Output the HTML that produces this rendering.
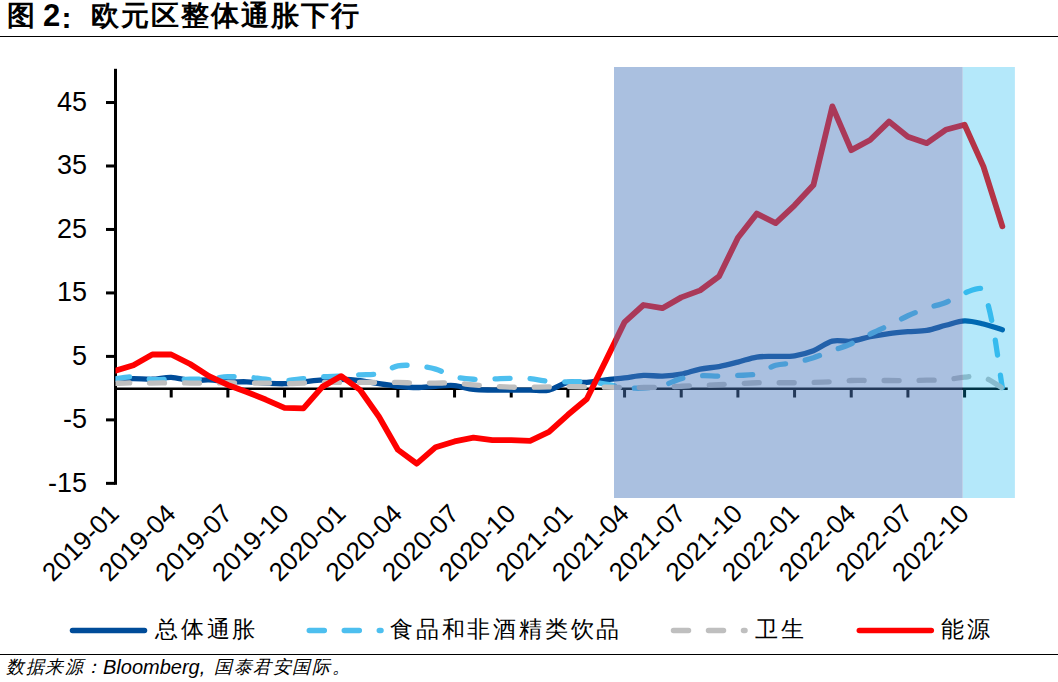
<!DOCTYPE html>
<html><head><meta charset="utf-8"><style>
html,body{margin:0;padding:0;background:#fff;width:1058px;height:682px;overflow:hidden;position:relative}
.t{position:absolute;font-family:"Liberation Sans",sans-serif;color:#000;white-space:nowrap;line-height:1}
</style></head><body>
<div class="t" style="left:7px;top:2px;font-size:28px;font-weight:bold">图</div>
<div class="t" style="left:43px;top:0px;font-size:31px;font-weight:bold">2</div>
<div class="t" style="left:61.5px;top:3px;font-size:30px;font-weight:bold">:</div>
<div class="t" style="left:91px;top:2px;font-size:28px;font-weight:bold;letter-spacing:2px">欧元区整体通胀下行</div>
<div style="position:absolute;left:0;top:35.8px;width:1058px;height:1.4px;background:#000"></div>
<svg width="1058" height="682" viewBox="0 0 1058 682" style="position:absolute;left:0;top:0">
<defs><clipPath id="pa"><rect x="115.5" y="60" width="900" height="440"/></clipPath></defs>
<rect x="114" y="68.8" width="3" height="416" fill="#000"/>
<rect x="106" y="101.02" width="9" height="3" fill="#000"/>
<rect x="106" y="164.49" width="9" height="3" fill="#000"/>
<rect x="106" y="227.96" width="9" height="3" fill="#000"/>
<rect x="106" y="291.43" width="9" height="3" fill="#000"/>
<rect x="106" y="354.90" width="9" height="3" fill="#000"/>
<rect x="106" y="418.38" width="9" height="3" fill="#000"/>
<rect x="106" y="481.85" width="9" height="3" fill="#000"/>
<rect x="114" y="387.5" width="893.7" height="2.5" fill="#000"/>
<rect x="169.70" y="388" width="3" height="9.5" fill="#000"/>
<rect x="226.37" y="388" width="3" height="9.5" fill="#000"/>
<rect x="283.04" y="388" width="3" height="9.5" fill="#000"/>
<rect x="339.71" y="388" width="3" height="9.5" fill="#000"/>
<rect x="396.38" y="388" width="3" height="9.5" fill="#000"/>
<rect x="453.05" y="388" width="3" height="9.5" fill="#000"/>
<rect x="509.72" y="388" width="3" height="9.5" fill="#000"/>
<rect x="566.39" y="388" width="3" height="9.5" fill="#000"/>
<rect x="623.06" y="388" width="3" height="9.5" fill="#000"/>
<rect x="679.73" y="388" width="3" height="9.5" fill="#000"/>
<rect x="736.40" y="388" width="3" height="9.5" fill="#000"/>
<rect x="793.07" y="388" width="3" height="9.5" fill="#000"/>
<rect x="849.74" y="388" width="3" height="9.5" fill="#000"/>
<rect x="906.41" y="388" width="3" height="9.5" fill="#000"/>
<rect x="963.08" y="388" width="3" height="9.5" fill="#000"/>
<g clip-path="url(#pa)" fill="none" stroke-linecap="round" stroke-linejoin="round">
<path d="M114.53 379.25 C117.68 379.15 127.12 378.62 133.42 378.62 C139.72 378.62 146.03 379.47 152.31 379.25 C158.62 379.04 164.93 377.14 171.20 377.35 C177.52 377.56 183.75 380.10 190.09 380.52 C196.34 380.94 202.70 379.68 208.98 379.89 C215.29 380.10 221.56 381.47 227.87 381.79 C234.15 382.11 240.47 381.58 246.76 381.79 C253.06 382.00 259.35 382.74 265.65 383.06 C271.94 383.38 278.26 383.91 284.54 383.70 C290.85 383.49 297.13 382.43 303.43 381.79 C309.73 381.16 316.01 380.31 322.32 379.89 C328.60 379.47 334.92 379.15 341.21 379.25 C347.51 379.36 353.84 379.79 360.10 380.52 C366.43 381.27 372.68 382.74 378.99 383.70 C385.27 384.65 391.56 385.60 397.88 386.24 C404.16 386.87 410.47 387.51 416.77 387.51 C423.07 387.51 429.36 386.55 435.66 386.24 C441.95 385.92 448.31 385.08 454.55 385.60 C460.91 386.14 467.08 388.66 473.44 389.41 C479.68 390.14 486.03 389.94 492.33 390.04 C498.62 390.15 504.92 390.04 511.22 390.04 C517.52 390.04 523.81 390.04 530.11 390.04 C536.41 390.04 542.94 391.27 549.00 390.04 C555.53 388.73 561.36 383.74 567.89 382.43 C573.95 381.21 580.51 382.85 586.78 382.43 C593.10 382.00 599.36 380.63 605.67 379.89 C611.95 379.15 618.28 378.72 624.56 377.98 C630.87 377.24 637.13 375.76 643.45 375.45 C649.72 375.13 656.06 376.29 662.34 376.08 C668.65 375.87 675.03 375.32 681.23 374.18 C687.62 373.00 693.74 370.38 700.12 369.10 C706.34 367.85 712.77 367.71 719.01 366.56 C725.36 365.39 731.63 363.70 737.90 362.12 C744.22 360.52 750.39 358.01 756.79 357.04 C762.98 356.10 769.38 356.62 775.68 356.40 C781.98 356.19 788.38 356.71 794.57 355.77 C800.97 354.80 807.41 353.03 813.46 350.69 C820.00 348.16 825.70 342.85 832.35 341.17 C838.29 339.68 845.03 341.90 851.24 341.17 C857.62 340.42 863.79 338.01 870.13 336.73 C876.39 335.47 882.70 334.41 889.02 333.56 C895.29 332.71 901.60 332.18 907.91 331.65 C914.20 331.12 920.61 331.42 926.80 330.38 C933.20 329.31 939.37 326.90 945.69 325.30 C951.96 323.72 958.24 321.07 964.58 320.86 C970.84 320.65 977.27 322.58 983.47 324.04 C989.86 325.54 999.21 328.80 1002.36 329.75" stroke="#004c99" stroke-width="5.3"/>
<path d="M114.53 378.94 C117.68 378.57 127.14 376.61 133.42 376.72 C139.73 376.82 145.98 379.15 152.31 379.57 C158.57 379.99 164.90 379.31 171.20 379.25 C177.50 379.20 183.80 379.36 190.09 379.25 C196.39 379.15 202.70 379.04 208.98 378.62 C215.29 378.20 221.56 376.98 227.87 376.72 C234.15 376.45 240.48 376.61 246.76 377.03 C253.08 377.46 259.34 378.67 265.65 379.25 C271.93 379.83 278.25 380.63 284.54 380.52 C290.85 380.42 297.13 379.25 303.43 378.62 C309.73 377.98 316.01 377.14 322.32 376.72 C328.60 376.29 334.92 376.40 341.21 376.08 C347.51 375.76 353.80 375.23 360.10 374.81 C366.40 374.39 372.92 374.97 378.99 373.54 C385.52 372.01 391.35 367.24 397.88 365.93 C403.94 364.70 410.52 365.40 416.77 365.93 C423.11 366.46 429.56 367.36 435.66 369.10 C442.15 370.95 448.04 374.97 454.55 376.72 C460.64 378.35 467.12 378.88 473.44 379.25 C479.71 379.62 486.03 379.10 492.33 378.94 C498.63 378.78 504.92 378.36 511.22 378.30 C517.52 378.25 523.85 378.09 530.11 378.62 C536.44 379.15 542.67 380.94 549.00 381.48 C555.26 382.00 561.59 381.74 567.89 381.79 C574.19 381.85 580.50 381.42 586.78 381.79 C593.10 382.16 599.40 383.07 605.67 384.01 C612.00 384.97 618.21 386.81 624.56 387.51 C630.81 388.19 637.18 388.46 643.45 388.14 C649.77 387.82 656.22 387.14 662.34 385.60 C668.81 383.97 674.77 380.30 681.23 378.62 C687.36 377.02 693.79 376.19 700.12 375.76 C706.38 375.34 712.71 376.13 719.01 376.08 C725.31 376.03 731.61 375.82 737.90 375.45 C744.21 375.08 750.78 375.48 756.79 373.86 C763.37 372.09 769.12 367.22 775.68 365.29 C781.71 363.52 788.35 364.00 794.57 362.75 C800.95 361.47 807.26 359.66 813.46 357.67 C819.85 355.64 826.05 353.02 832.35 350.69 C838.65 348.37 845.10 346.39 851.24 343.71 C857.69 340.89 863.79 337.28 870.13 334.19 C876.39 331.14 882.76 328.35 889.02 325.30 C895.36 322.22 901.49 318.69 907.91 315.78 C914.09 312.98 920.40 310.42 926.80 308.17 C933.00 305.98 939.61 304.91 945.69 302.46 C952.21 299.83 957.96 295.05 964.58 292.93 C970.55 291.03 981.44 285.30 983.47 290.40 C994.03 316.83 999.21 371.32 1002.36 387.51" stroke="#4dbfef" stroke-width="5.3" stroke-dasharray="15 20"/>
<path d="M114.53 383.38 C117.68 383.27 127.12 382.80 133.42 382.75 C139.72 382.69 146.01 383.06 152.31 383.06 C158.61 383.06 164.90 382.75 171.20 382.75 C177.50 382.75 183.79 383.01 190.09 383.06 C196.39 383.12 202.68 383.12 208.98 383.06 C215.28 383.01 221.57 382.75 227.87 382.75 C234.17 382.75 240.46 383.01 246.76 383.06 C253.06 383.12 259.36 382.96 265.65 383.06 C271.95 383.17 278.24 383.70 284.54 383.70 C290.84 383.70 297.13 383.27 303.43 383.06 C309.73 382.85 316.02 382.53 322.32 382.43 C328.61 382.32 334.91 382.43 341.21 382.43 C347.51 382.43 353.80 382.43 360.10 382.43 C366.40 382.43 372.69 382.43 378.99 382.43 C385.29 382.43 391.59 382.32 397.88 382.43 C404.18 382.53 410.47 382.96 416.77 383.06 C423.06 383.17 429.36 383.06 435.66 383.06 C441.96 383.06 448.27 382.75 454.55 383.06 C460.86 383.38 467.13 384.44 473.44 384.97 C479.73 385.49 486.03 385.87 492.33 386.24 C498.62 386.61 504.92 387.03 511.22 387.19 C517.51 387.35 523.81 387.24 530.11 387.19 C536.41 387.14 542.70 386.98 549.00 386.87 C555.30 386.76 561.59 386.55 567.89 386.55 C574.19 386.55 580.48 386.76 586.78 386.87 C593.08 386.98 599.37 387.08 605.67 387.19 C611.97 387.29 618.26 387.45 624.56 387.51 C630.86 387.56 637.15 387.56 643.45 387.51 C649.75 387.45 656.05 387.40 662.34 387.19 C668.64 386.98 674.93 386.50 681.23 386.24 C687.52 385.97 693.83 385.87 700.12 385.60 C706.42 385.34 712.71 384.97 719.01 384.65 C725.31 384.33 731.60 384.01 737.90 383.70 C744.20 383.38 750.49 382.90 756.79 382.75 C763.08 382.59 769.38 382.75 775.68 382.75 C781.98 382.75 788.27 382.80 794.57 382.75 C800.87 382.69 807.16 382.59 813.46 382.43 C819.76 382.27 826.06 382.11 832.35 381.79 C838.65 381.48 844.94 380.74 851.24 380.52 C857.53 380.31 863.83 380.52 870.13 380.52 C876.43 380.52 882.72 380.52 889.02 380.52 C895.32 380.52 901.61 380.58 907.91 380.52 C914.21 380.47 920.50 380.31 926.80 380.21 C933.10 380.10 939.43 380.41 945.69 379.89 C952.02 379.36 958.25 377.46 964.58 377.03 C970.84 376.61 977.62 375.63 983.47 377.35 C990.21 379.33 999.21 386.34 1002.36 388.14" stroke="#bfbfbf" stroke-width="5.3" stroke-dasharray="15 20"/>
<path d="M114.53 371.00 L133.42 365.29 L152.31 354.50 L171.20 354.50 L190.09 364.02 L208.98 376.08 L227.87 384.97 L246.76 391.95 L265.65 399.56 L284.54 407.82 L303.43 408.45 L322.32 386.87 L341.21 376.08 L360.10 390.04 L378.99 416.70 L397.88 449.71 L416.77 463.67 L435.66 447.17 L454.55 441.45 L473.44 437.65 L492.33 440.19 L511.22 440.19 L530.11 440.82 L549.00 431.93 L567.89 414.80 L586.78 398.93 L605.67 360.85 L624.56 322.13 L643.45 304.99 L662.34 308.17 L681.23 297.38 L700.12 290.40 L719.01 276.43 L737.90 237.72 L756.79 213.60 L775.68 223.12 L794.57 205.35 L813.46 185.04 L832.35 106.33 L851.24 150.13 L870.13 139.97 L889.02 121.57 L907.91 136.80 L926.80 143.15 L945.69 129.82 L964.58 124.74 L983.47 166.63 L1002.36 226.29" stroke="#ff0000" stroke-width="5.8"/>
</g>
<rect x="614" y="67" width="348.7" height="431" fill="rgb(75,121,189)" fill-opacity="0.47"/>
<rect x="962.9" y="67" width="52" height="431" fill="rgb(0,177,238)" fill-opacity="0.294"/>
<text x="87" y="111.02" text-anchor="end" font-size="27" font-family="Liberation Sans, sans-serif">45</text>
<text x="87" y="174.49" text-anchor="end" font-size="27" font-family="Liberation Sans, sans-serif">35</text>
<text x="87" y="237.96" text-anchor="end" font-size="27" font-family="Liberation Sans, sans-serif">25</text>
<text x="87" y="301.43" text-anchor="end" font-size="27" font-family="Liberation Sans, sans-serif">15</text>
<text x="87" y="364.90" text-anchor="end" font-size="27" font-family="Liberation Sans, sans-serif">5</text>
<text x="87" y="428.38" text-anchor="end" font-size="27" font-family="Liberation Sans, sans-serif">-5</text>
<text x="87" y="491.85" text-anchor="end" font-size="27" font-family="Liberation Sans, sans-serif">-15</text>
<text transform="translate(120.50 515.2) rotate(-45)" text-anchor="end" font-size="26" font-family="Liberation Sans, sans-serif">2019-01</text>
<text transform="translate(177.17 515.2) rotate(-45)" text-anchor="end" font-size="26" font-family="Liberation Sans, sans-serif">2019-04</text>
<text transform="translate(233.84 515.2) rotate(-45)" text-anchor="end" font-size="26" font-family="Liberation Sans, sans-serif">2019-07</text>
<text transform="translate(290.51 515.2) rotate(-45)" text-anchor="end" font-size="26" font-family="Liberation Sans, sans-serif">2019-10</text>
<text transform="translate(347.18 515.2) rotate(-45)" text-anchor="end" font-size="26" font-family="Liberation Sans, sans-serif">2020-01</text>
<text transform="translate(403.85 515.2) rotate(-45)" text-anchor="end" font-size="26" font-family="Liberation Sans, sans-serif">2020-04</text>
<text transform="translate(460.52 515.2) rotate(-45)" text-anchor="end" font-size="26" font-family="Liberation Sans, sans-serif">2020-07</text>
<text transform="translate(517.19 515.2) rotate(-45)" text-anchor="end" font-size="26" font-family="Liberation Sans, sans-serif">2020-10</text>
<text transform="translate(573.86 515.2) rotate(-45)" text-anchor="end" font-size="26" font-family="Liberation Sans, sans-serif">2021-01</text>
<text transform="translate(630.53 515.2) rotate(-45)" text-anchor="end" font-size="26" font-family="Liberation Sans, sans-serif">2021-04</text>
<text transform="translate(687.20 515.2) rotate(-45)" text-anchor="end" font-size="26" font-family="Liberation Sans, sans-serif">2021-07</text>
<text transform="translate(743.87 515.2) rotate(-45)" text-anchor="end" font-size="26" font-family="Liberation Sans, sans-serif">2021-10</text>
<text transform="translate(800.54 515.2) rotate(-45)" text-anchor="end" font-size="26" font-family="Liberation Sans, sans-serif">2022-01</text>
<text transform="translate(857.21 515.2) rotate(-45)" text-anchor="end" font-size="26" font-family="Liberation Sans, sans-serif">2022-04</text>
<text transform="translate(913.88 515.2) rotate(-45)" text-anchor="end" font-size="26" font-family="Liberation Sans, sans-serif">2022-07</text>
<text transform="translate(970.55 515.2) rotate(-45)" text-anchor="end" font-size="26" font-family="Liberation Sans, sans-serif">2022-10</text>
<line x1="72.5" y1="630.5" x2="144.5" y2="630.5" stroke="#004c99" stroke-width="5.5" stroke-linecap="round"/>
<line x1="309.3" y1="630.5" x2="381.0" y2="630.5" stroke="#4dbfef" stroke-width="5.5" stroke-linecap="round" stroke-dasharray="15 20"/>
<line x1="673.5" y1="630.5" x2="745.0" y2="630.5" stroke="#bfbfbf" stroke-width="5.5" stroke-linecap="round" stroke-dasharray="15 20"/>
<line x1="859.3" y1="630.5" x2="931.3" y2="630.5" stroke="#ff0000" stroke-width="5.5" stroke-linecap="round"/>
</svg>
<div class="t" style="left:155px;top:618px;font-size:23px;letter-spacing:2.8px;font-family:'Liberation Serif',serif">总体通胀</div>
<div class="t" style="left:390px;top:618px;font-size:23px;letter-spacing:2.8px;font-family:'Liberation Serif',serif">食品和非酒精类饮品</div>
<div class="t" style="left:755px;top:618px;font-size:23px;letter-spacing:2.8px;font-family:'Liberation Serif',serif">卫生</div>
<div class="t" style="left:941px;top:618px;font-size:23px;letter-spacing:2.8px;font-family:'Liberation Serif',serif">能源</div>
<div style="position:absolute;left:0;top:653.8px;width:1058px;height:1.4px;background:#000"></div>
<div class="t" style="left:6px;top:658px;font-size:18px;letter-spacing:1.6px;font-style:italic">数据来源：</div>
<div class="t" style="left:103px;top:656.5px;font-size:20px;font-style:italic">Bloomberg,</div>
<div class="t" style="left:214px;top:658px;font-size:18px;letter-spacing:1.6px;font-style:italic">国泰君安国际。</div>
</body></html>
